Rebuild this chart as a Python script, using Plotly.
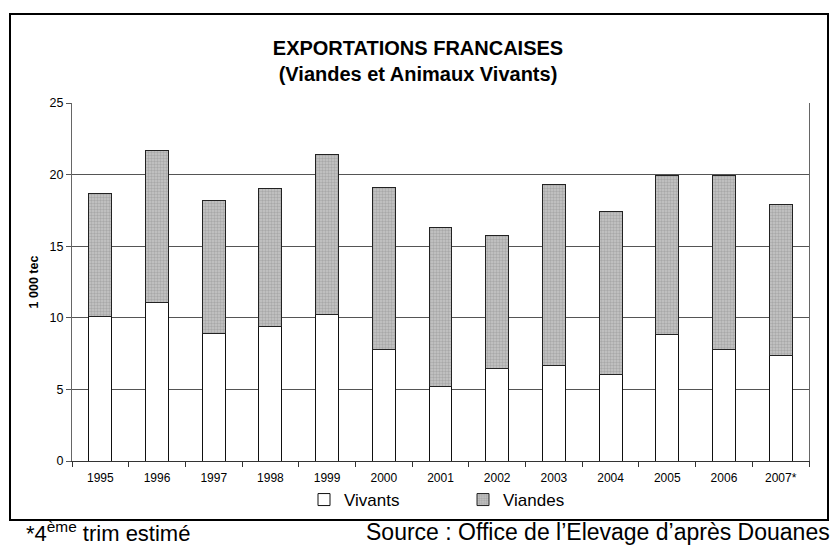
import plotly.graph_objects as go

years = ["1995", "1996", "1997", "1998", "1999", "2000", "2001",
         "2002", "2003", "2004", "2005", "2006", "2007*"]
vivants = [10.1, 11.1, 8.9, 9.4, 10.2, 7.8, 5.2, 6.45, 6.7, 6.05, 8.8, 7.8, 7.35]
viandes = [8.6, 10.6, 9.3, 9.6, 11.2, 11.3, 11.1, 9.3, 12.6, 11.4, 11.15, 12.15, 10.55]

FONT = "Liberation Sans, Arial, sans-serif"

fig = go.Figure()
fig.add_trace(go.Bar(
    x=years, y=vivants, name="Vivants",
    marker=dict(color="white", line=dict(color="#111111", width=1)),
))
fig.add_trace(go.Bar(
    x=years, y=viandes, name="Viandes",
    marker=dict(color="#bdbdbd", line=dict(color="#222222", width=1),
                pattern=dict(shape=".", fgcolor="#8a8a8a", bgcolor="#c6c6c6",
                             size=3, solidity=0.5)),
))

# plot area: x 72..809, y 103..461 (px)
L, R, T, B = 72, 24, 103, 86
W, H = 833, 547
pw, ph = W - L - R, H - T - B

def px2paper_x(px):
    return (px - L) / pw

def px2paper_y(py):
    return (H - B - py) / ph

fig.update_layout(
    width=W, height=H,
    margin=dict(l=L, r=R, t=T, b=B, autoexpand=False),
    paper_bgcolor="white", plot_bgcolor="white",
    barmode="stack", bargap=0.595,
    font=dict(family=FONT, color="black"),
    title=dict(text="<b>EXPORTATIONS FRANCAISES<br>(Viandes et Animaux Vivants)</b>",
               x=418 / W, xanchor="center", xref="container",
               y=1 - 55 / H, yanchor="middle", yref="container",
               font=dict(size=20, family=FONT, color="black")),
    showlegend=True,
    legend=dict(orientation="h", x=px2paper_x(304), xanchor="left",
                y=px2paper_y(500), yanchor="middle",
                font=dict(size=17, family=FONT), entrywidth=114,
                entrywidthmode="pixels", itemwidth=30,
                bgcolor="rgba(0,0,0,0)", traceorder="normal"),
    xaxis=dict(type="category", tickson="boundaries", ticks="outside",
               ticklen=5, tickcolor="#333", showline=True, linecolor="#333",
               linewidth=1, showgrid=False, tickfont=dict(size=12, family=FONT),
               ticklabelstandoff=6, automargin=False),
    yaxis=dict(range=[0, 25], dtick=5, tick0=0, ticks="outside", ticklen=5,
               tickcolor="#555", showline=True, linecolor="#666", linewidth=1,
               mirror=True, showgrid=True, gridcolor="#555", gridwidth=1,
               zeroline=False, tickfont=dict(size=12.5, family=FONT),
               title=dict(text="<b>1 000 tec</b>", font=dict(size=12.5, family=FONT),
                          standoff=8),
               automargin=False),
)

# outer chart border
fig.add_shape(type="rect", xref="paper", yref="paper",
              x0=px2paper_x(10), x1=px2paper_x(828),
              y0=px2paper_y(520), y1=px2paper_y(14),
              line=dict(color="black", width=2), fillcolor="rgba(0,0,0,0)",
              layer="below")

# footer notes
fig.add_annotation(text="*4<sup>ème</sup> trim estimé", xref="paper", yref="paper",
                   x=px2paper_x(24), y=px2paper_y(532), xanchor="left",
                   yanchor="middle", showarrow=False,
                   font=dict(size=22, family=FONT, color="black"))
fig.add_annotation(text="Source : Office de l\u2019Elevage d\u2019après Douanes",
                   xref="paper", yref="paper",
                   x=px2paper_x(832), y=px2paper_y(532), xanchor="right",
                   yanchor="middle", showarrow=False,
                   font=dict(size=23, family=FONT, color="black"))

fig.write_html("out.html", config={"displayModeBar": False},
               post_script="document.body.style.margin='0';")
